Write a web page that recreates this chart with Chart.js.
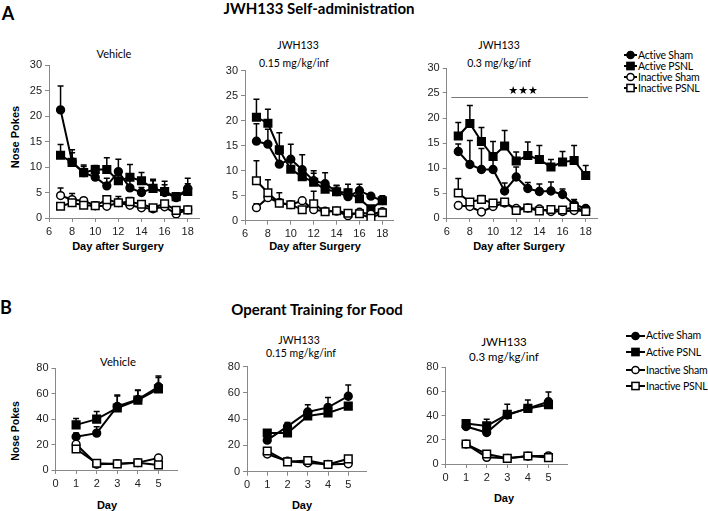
<!DOCTYPE html>
<html><head><meta charset="utf-8">
<script src="https://cdn.jsdelivr.net/npm/chart.js@4.4.1/dist/chart.umd.min.js"></script>
<style>
body{margin:0;background:#fff;width:708px;height:511px;position:relative;overflow:hidden;font-family:Lato,sans-serif;color:#000;}
canvas{position:absolute;}
.t{position:absolute;transform:translate(-50%,-50%);white-space:nowrap;line-height:1;}
.b{font-weight:bold;}
.ax{font-family:"Liberation Sans",Arial,sans-serif;font-weight:bold;font-size:11px;}
.rot{transform:translate(-50%,-50%) rotate(-90deg);}
.leg{position:absolute;display:flex;align-items:center;white-space:nowrap;line-height:1;letter-spacing:-0.2px;}
.leg svg{margin-right:1px;}
</style></head><body>
<div class="t b" style="left:8px;top:13px;font-size:18px;">A</div>
<div class="t b" style="left:6px;top:307px;font-size:18px;">B</div>
<div class="t b" style="left:319px;top:8px;font-size:15px;">JWH133 Self-administration</div>
<div class="t b" style="left:317px;top:309px;font-size:15px;">Operant Training for Food</div>

<div class="t" style="left:114px;top:53px;font-size:11px;">Vehicle</div>
<div class="t" style="left:298px;top:45px;font-size:10.5px;">JWH133</div>
<div class="t" style="left:294px;top:63px;font-size:10.5px;">0.15 mg/kg/inf</div>
<div class="t" style="left:499px;top:45px;font-size:10.5px;">JWH133</div>
<div class="t" style="left:499px;top:63px;font-size:10.5px;">0.3 mg/kg/inf</div>

<div class="t" style="left:118px;top:362px;font-size:11.3px;">Vehicle</div>
<div class="t" style="left:299px;top:340px;font-size:10.5px;">JWH133</div>
<div class="t" style="left:301px;top:353px;font-size:10.5px;">0.15 mg/kg/inf</div>
<div class="t" style="left:504px;top:342px;font-size:11.5px;">JWH133</div>
<div class="t" style="left:504px;top:357px;font-size:11.5px;">0.3 mg/kg/inf</div>

<div class="t ax rot" style="left:15px;top:137px;">Nose Pokes</div>
<div class="t ax rot" style="left:15px;top:431px;font-size:10.5px;">Nose Pokes</div>
<div class="t ax" style="left:118px;top:246px;">Day after Surgery</div>
<div class="t ax" style="left:315px;top:246px;">Day after Surgery</div>
<div class="t ax" style="left:519px;top:246px;">Day after Surgery</div>
<div class="t ax" style="left:107px;top:505px;">Day</div>
<div class="t ax" style="left:302px;top:505px;">Day</div>
<div class="t ax" style="left:504px;top:498px;">Day</div>

<script>
// ---------- data ----------
const seriesNames = ['Active Sham', 'Active PSNL', 'Inactive Sham', 'Inactive PSNL'];
const daysA = [7, 8, 9, 10, 11, 12, 13, 14, 15, 16, 17, 18];
const daysB = [1, 2, 3, 4, 5];

// Panel A: Vehicle
const a1ActiveSham    = [21.2, 11.0, 8.9, 8.0, 6.3, 9.1, 5.9, 5.0, 5.8, 5.0, 4.0, 5.8];
const a1ActiveShamErr = [4.7, 1.8, 1.2, 1.5, 1.5, 2.4, 1.5, 1.0, 1.8, 1.5, 0.7, 2.0];
const a1ActivePSNL    = [12.3, 10.9, 8.9, 9.5, 9.5, 7.3, 8.0, 7.3, 5.8, 5.2, 4.2, 5.2];
const a1ActivePSNLErr = [2.1, 2.5, 1.5, 0.8, 2.3, 1.5, 2.5, 1.6, 1.5, 2.0, 0.6, 1.5];
const a1InactiveSham    = [4.4, 3.6, 3.4, 2.4, 2.3, 3.0, 2.5, 2.0, 1.8, 2.2, 0.8, 1.6];
const a1InactiveShamErr = [1.5, 1.2, 0.5, 0.7, 0.5, 1.2, 0.8, 0.5, 0.4, 0.4, 0.3, 0.3];
const a1InactivePSNL    = [2.3, 3.0, 2.5, 2.4, 3.6, 3.0, 3.2, 2.7, 2.0, 2.8, 1.5, 1.6];
const a1InactivePSNLErr = [0.5, 0.6, 0.4, 0.4, 0.5, 0.5, 0.8, 0.4, 0.3, 0.4, 0.3, 0.3];

// Panel A: JWH133 0.15
const a2ActiveSham    = [15.9, 15.3, 11.3, 12.3, 10.2, 8.0, 7.4, 5.8, 4.8, 6.0, 4.9, 4.0];
const a2ActiveShamErr = [3.5, 3.0, 2.0, 3.0, 3.0, 1.5, 2.2, 1.3, 1.5, 1.3, 0.5, 1.0];
const a2ActivePSNL    = [20.7, 19.5, 14.2, 10.3, 8.8, 7.7, 6.3, 5.8, 5.6, 4.4, 2.4, 4.0];
const a2ActivePSNLErr = [3.6, 2.8, 3.4, 1.5, 1.5, 2.3, 1.5, 1.2, 1.7, 1.0, 0.5, 0.8];
const a2InactiveSham    = [2.6, 4.6, 3.6, 3.2, 4.0, 2.2, 1.9, 1.9, 1.0, 1.7, 1.3, 1.8];
const a2InactiveShamErr = [0.8, 1.0, 2.0, 0.5, 0.5, 0.5, 0.3, 0.3, 0.4, 0.5, 0.3, 0.3];
const a2InactivePSNL    = [8.0, 5.6, 3.5, 3.2, 2.2, 3.4, 1.8, 2.0, 1.5, 1.4, 0.5, 1.6];
const a2InactivePSNLErr = [4.0, 2.6, 0.8, 0.5, 0.5, 2.5, 0.5, 0.3, 0.5, 0.3, 0.3, 0.3];

// Panel A: JWH133 0.3
const a3ActiveSham    = [13.3, 10.7, 9.7, 9.7, 5.4, 8.2, 5.9, 5.3, 5.4, 4.7, 2.7, 1.9];
const a3ActiveShamErr = [1.5, 4.8, 4.2, 2.5, 1.6, 2.0, 1.2, 1.5, 1.8, 1.1, 1.0, 0.3];
const a3ActivePSNL    = [16.4, 18.9, 15.3, 12.3, 14.4, 11.4, 12.5, 11.7, 10.2, 11.2, 11.5, 8.5];
const a3ActivePSNLErr = [2.7, 3.6, 2.8, 3.0, 3.1, 1.8, 2.7, 2.8, 1.5, 2.1, 3.0, 2.0];
const a3InactiveSham    = [2.5, 2.3, 1.2, 2.3, 3.0, 1.9, 2.0, 1.8, 1.3, 1.3, 1.5, 1.4];
const a3InactiveShamErr = [0.4, 0.4, 0.3, 0.4, 0.5, 0.3, 0.3, 0.3, 0.3, 0.3, 0.3, 0.3];
const a3InactivePSNL    = [5.0, 3.2, 3.7, 3.0, 3.2, 1.5, 2.0, 1.4, 1.7, 1.6, 2.2, 1.3];
const a3InactivePSNLErr = [2.9, 0.5, 0.8, 0.4, 0.5, 0.3, 0.4, 0.3, 0.3, 0.3, 0.4, 0.3];
const sigStart = 6.4, sigEnd = 18.2, sigLevel = 24.2, sigLabel = '★★★', sigLabelX = 12.6;

// Panel B: Vehicle
const b1ActiveSham    = [26.2, 29.0, 50.0, 55.5, 65.5];
const b1ActiveShamErr = [3.0, 5.0, 9.0, 7.0, 8.5];
const b1ActivePSNL    = [35.5, 40.0, 48.8, 55.0, 63.8];
const b1ActivePSNLErr = [5.0, 6.0, 9.5, 8.0, 9.0];
const b1InactiveSham    = [20.3, 4.5, 5.0, 5.8, 9.5];
const b1InactiveShamErr = [1.0, 0.5, 0.5, 0.5, 0.5];
const b1InactivePSNL    = [16.5, 5.3, 4.8, 5.7, 4.0];
const b1InactivePSNLErr = [1.0, 0.5, 0.5, 0.5, 0.5];

// Panel B: JWH133 0.15
const b2ActiveSham    = [24.0, 34.5, 45.5, 49.0, 57.5];
const b2ActiveShamErr = [2.0, 3.0, 5.5, 7.5, 8.5];
const b2ActivePSNL    = [29.5, 29.5, 42.5, 44.8, 50.0];
const b2ActivePSNLErr = [2.0, 2.0, 3.0, 3.0, 2.0];
const b2InactiveSham    = [13.5, 8.0, 6.8, 5.5, 6.0];
const b2InactiveShamErr = [1.0, 0.5, 0.5, 0.5, 0.5];
const b2InactivePSNL    = [15.8, 7.5, 8.5, 5.5, 9.8];
const b2InactivePSNLErr = [1.0, 0.5, 0.5, 0.5, 0.5];

// Panel B: JWH133 0.3
const b3ActiveSham    = [31.0, 26.0, 40.5, 46.0, 51.5];
const b3ActiveShamErr = [2.0, 2.0, 9.0, 7.0, 8.0];
const b3ActivePSNL    = [33.5, 31.5, 41.0, 46.0, 49.0];
const b3ActivePSNLErr = [2.0, 5.5, 3.0, 3.0, 3.0];
const b3InactiveSham    = [16.5, 5.5, 4.7, 6.5, 6.8];
const b3InactiveShamErr = [1.0, 0.5, 0.5, 0.5, 0.5];
const b3InactivePSNL    = [16.5, 8.3, 4.7, 6.6, 5.3];
const b3InactivePSNLErr = [1.0, 0.5, 0.5, 0.5, 0.5];

// axis settings
const xA = {min: 6, max: 19, step: 2};
const yA = {min: 0, max: 30, step: 5};
const xB = {min: 0, max: 5.9, step: 1};
const yB = {min: 0, max: 80, step: 20};

// ---------- plugins ----------
const errorBars = {
  id: 'errorBars',
  beforeDatasetsDraw(chart) {
    const {ctx} = chart, xs = chart.scales.x, ys = chart.scales.y;
    ctx.save();
    ctx.strokeStyle = '#000'; ctx.lineWidth = 1.5;
    chart.data.datasets.forEach(ds => {
      if (!ds.errors) return;
      ds.data.forEach((p, j) => {
        const e = ds.errors[j]; if (!e) return;
        const px = xs.getPixelForValue(p.x);
        const y0 = ys.getPixelForValue(p.y), y1 = ys.getPixelForValue(p.y + e);
        ctx.beginPath();
        ctx.moveTo(px, y0); ctx.lineTo(px, y1);
        ctx.moveTo(px - 3, y1); ctx.lineTo(px + 3, y1);
        ctx.stroke();
      });
    });
    ctx.restore();
  }
};
const sigPlugin = {
  id: 'sig',
  afterDatasetsDraw(chart, args, opts) {
    if (!opts || !opts.show) return;
    const {ctx} = chart, xs = chart.scales.x, ys = chart.scales.y;
    const y = Math.round(ys.getPixelForValue(sigLevel)) + 0.5;
    ctx.save();
    ctx.strokeStyle = '#777'; ctx.lineWidth = 1;
    ctx.beginPath();
    ctx.moveTo(xs.getPixelForValue(sigStart), y);
    ctx.lineTo(xs.getPixelForValue(sigEnd), y);
    ctx.stroke();
    ctx.fillStyle = '#000';
    ctx.font = '11px "DejaVu Sans"';
    ctx.textAlign = 'center'; ctx.textBaseline = 'bottom';
    ctx.fillText(sigLabel, xs.getPixelForValue(sigLabelX), y - 1);
    ctx.restore();
  }
};

// ---------- panel builder ----------
function panel(box, area, xc, yc, days, vals, errs, sig) {
  const cv = document.createElement('canvas');
  cv.width = box.w; cv.height = box.h;
  cv.style.left = box.x + 'px'; cv.style.top = box.y + 'px';
  cv.style.width = box.w + 'px'; cv.style.height = box.h + 'px';
  document.body.appendChild(cv);
  const yw = area.left - box.x, pt = area.top - box.y;
  const pr = box.x + box.w - area.right, xh = box.y + box.h - area.bottom;
  const tickFont = {family: '"Liberation Sans", Arial, sans-serif', size: 11};
  new Chart(cv, {
    type: 'line',
    data: {
      datasets: vals.map((v, i) => ({
        label: seriesNames[i],
        data: days.map((d, j) => ({x: d, y: v[j]})),
        errors: errs[i],
        borderColor: '#000', borderWidth: 2,
        pointStyle: i % 2 === 0 ? 'circle' : 'rect',
        pointRadius: i % 2 === 0 ? 3.9 : 5.4,
        pointBackgroundColor: i < 2 ? '#000' : '#fff',
        pointBorderColor: '#000', pointBorderWidth: 1.5,
        tension: 0, fill: false, order: 3 - i
      }))
    },
    options: {
      responsive: false, animation: false, devicePixelRatio: 1,
      layout: {padding: {left: 0, top: pt, right: pr, bottom: 0}},
      plugins: {legend: {display: false}, tooltip: {enabled: false}, sig: {show: !!sig}},
      scales: {
        x: {
          type: 'linear', min: xc.min, max: xc.max,
          afterFit(s) { s.height = xh; },
          ticks: {stepSize: xc.step, includeBounds: false, font: tickFont, color: '#222', padding: 3, maxRotation: 0, autoSkip: false},
          grid: {drawOnChartArea: false, drawTicks: true, tickLength: 4, color: '#888'},
          border: {color: '#888', width: 1}
        },
        y: {
          type: 'linear', min: yc.min, max: yc.max,
          afterFit(s) { s.width = yw; },
          ticks: {stepSize: yc.step, font: tickFont, color: '#222', padding: 3},
          grid: {drawOnChartArea: false, drawTicks: true, tickLength: 4, color: '#888'},
          border: {color: '#888', width: 1}
        }
      }
    },
    plugins: [errorBars, sigPlugin]
  });
}

panel({x: 0, y: 40, w: 215, h: 200}, {left: 49, top: 65, right: 199.3, bottom: 218}, xA, yA, daysA,
  [a1ActiveSham, a1ActivePSNL, a1InactiveSham, a1InactivePSNL],
  [a1ActiveShamErr, a1ActivePSNLErr, a1InactiveShamErr, a1InactivePSNLErr]);
panel({x: 215, y: 40, w: 200, h: 200}, {left: 245, top: 70.7, right: 393.8, bottom: 220.7}, xA, yA, daysA,
  [a2ActiveSham, a2ActivePSNL, a2InactiveSham, a2InactivePSNL],
  [a2ActiveShamErr, a2ActivePSNLErr, a2InactiveShamErr, a2InactivePSNLErr]);
panel({x: 415, y: 40, w: 200, h: 200}, {left: 446.7, top: 68, right: 597.3, bottom: 218}, xA, yA, daysA,
  [a3ActiveSham, a3ActivePSNL, a3InactiveSham, a3InactivePSNL],
  [a3ActiveShamErr, a3ActivePSNLErr, a3InactiveShamErr, a3InactivePSNLErr], true);

panel({x: 0, y: 340, w: 215, h: 152}, {left: 55.5, top: 368.3, right: 177, bottom: 470}, xB, yB, daysB,
  [b1ActiveSham, b1ActivePSNL, b1InactiveSham, b1InactivePSNL],
  [b1ActiveShamErr, b1ActivePSNLErr, b1InactiveShamErr, b1InactivePSNLErr]);
panel({x: 215, y: 340, w: 200, h: 154}, {left: 247, top: 366.7, right: 366.5, bottom: 471.7}, xB, yB, daysB,
  [b2ActiveSham, b2ActivePSNL, b2InactiveSham, b2InactivePSNL],
  [b2ActiveShamErr, b2ActivePSNLErr, b2InactiveShamErr, b2InactivePSNLErr]);
panel({x: 415, y: 340, w: 200, h: 146}, {left: 445.5, top: 367.3, right: 567, bottom: 464}, xB, yB, daysB,
  [b3ActiveSham, b3ActivePSNL, b3InactiveSham, b3InactivePSNL],
  [b3ActiveShamErr, b3ActivePSNLErr, b3InactiveShamErr, b3InactivePSNLErr]);

// ---------- legends ----------
function legend(x, ys, lineW, fontSize) {
  seriesNames.forEach((name, i) => {
    const d = document.createElement('div');
    d.className = 'leg';
    d.style.left = x + 'px'; d.style.top = (ys[i] - 6) + 'px'; d.style.height = '12px';
    d.style.fontSize = fontSize + 'px';
    const fill = i < 2 ? '#000' : '#fff';
    const c = lineW / 2;
    const mk = i % 2 === 0
      ? `<circle cx="${c}" cy="6" r="3.6" fill="${fill}" stroke="#000" stroke-width="1.5"/>`
      : `<rect x="${c - 3.6}" y="2.4" width="7.2" height="7.2" fill="${fill}" stroke="#000" stroke-width="1.5"/>`;
    d.innerHTML = `<svg width="${lineW}" height="12"><line x1="0" y1="6" x2="${lineW}" y2="6" stroke="#000" stroke-width="2"/>${mk}</svg><span>${name}</span>`;
    document.body.appendChild(d);
  });
}
legend(624, [55, 66, 77.3, 88.3], 13, 10.5);
legend(626, [335.7, 352.3, 370, 386], 19, 10.5);
</script>
</body></html>
